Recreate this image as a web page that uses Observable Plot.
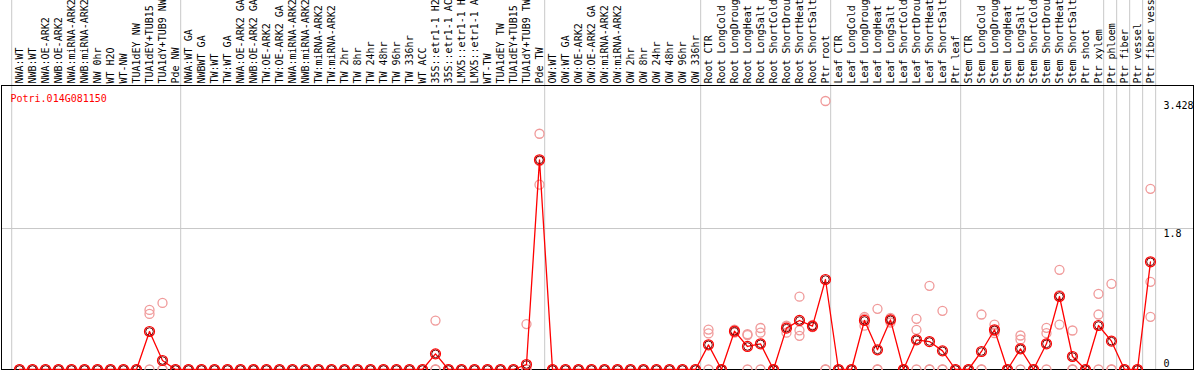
<!DOCTYPE html>
<html><head><meta charset="utf-8">
<script src="https://cdn.jsdelivr.net/npm/d3@7"></script>
<script src="https://cdn.jsdelivr.net/npm/@observablehq/plot@0.6"></script>
<style>html,body{margin:0;padding:0;background:#fff;} #chart svg{display:block;}</style>
</head><body><div id="chart"></div>
<script>
const geneId = "Potri.014G081150";

const categories = [
  "NWA:WT","NWB:WT","NWA:OE-ARK2","NWB:OE-ARK2","NWA:miRNA-ARK2","NWB:miRNA-ARK2","NW 0hr","WT H2O","WT-NW","TUA1dEY NW","TUA1dEY+TUB15 NW","TUA1dY+TUB9 NW","Pde NW",
  "NWA:WT GA","NWBWT GA","TW:WT","TW:WT GA","NWA:OE-ARK2 GA","NWB:OE-ARK2 GA","TW:OE-ARK2","TW:OE-ARK2 GA","NWA:miRNA-ARK2","NWB:miRNA-ARK2","TW:miRNA-ARK2","TW:miRNA-ARK2","TW 2hr","TW 8hr","TW 24hr","TW 48hr","TW 96hr","TW 336hr","WT ACC","35S::etr1-1 H2O","35S::etr1-1 ACC","LMX5::etr1-1 H2O","LMX5::etr1-1 ACC","WT-TW","TUA1dEY TW","TUA1dEY+TUB15 TW","TUA1dY+TUB9 TW","Pde TW",
  "OW:WT","OW:WT GA","OW:OE-ARK2","OW:OE-ARK2 GA","OW:miRNA-ARK2","OW:miRNA-ARK2","OW 2hr","OW 8hr","OW 24hr","OW 48hr","OW 96hr","OW 336hr",
  "Root CTR","Root LongCold","Root LongDrought","Root LongHeat","Root LongSalt","Root ShortCold","Root ShortDrought","Root ShortHeat","Root ShortSalt","Ptr root",
  "Leaf CTR","Leaf LongCold","Leaf LongDrought","Leaf LongHeat","Leaf LongSalt","Leaf ShortCold","Leaf ShortDrought","Leaf ShortHeat","Leaf ShortSalt","Ptr leaf",
  "Stem CTR","Stem LongCold","Stem LongDrought","Stem LongHeat","Stem LongSalt","Stem ShortCold","Stem ShortDrought","Stem ShortHeat","Stem ShortSalt","Ptr shoot","Ptr xylem",
  "Ptr phloem","Ptr fiber","Ptr vessel","Ptr fiber vessel"
];

const groupSizes = [13, 28, 12, 10, 10, 11, 1, 1, 1, 1];

const meanValues = [
  0,0,0,0,0,0,0,0,0,0,0.485,0.115,0,
  0,0,0,0,0,0,0,0,0,0,0,0,0,0,0,0,0,0,0,0.2,0,0,0,0,0,0,0.064,2.677,
  0,0,0,0,0,0,0,0,0,0,0,0,
  0.315,0,0.489,0.294,0.328,0,0.528,0.626,0.553,1.149,
  0,0,0.626,0.251,0.634,0,0.379,0.357,0.238,0,
  0,0.23,0.507,0,0.264,0,0.328,0.932,0.166,0,0.562,
  0.362,0,0,1.375
];

const rep1 = [
  0,0,0,0,0,0,0,0,0,0,0.76,0.85,0,
  0,0,0,0,0,0,0,0,0,0,0,0,0,0,0,0,0,0,0,0.625,0,0,0,0,0,0,0.58,3.01,
  0,0,0,0,0,0,0,0,0,0,0,0,
  0.51,0,0.51,0.45,0.53,0,0.56,0.93,0.57,3.428,
  0,0,0.67,0.775,0.66,0,0.647,1.068,0.749,0,
  0,0.702,0.574,0,0.434,0,0.532,1.273,0.498,0,0.966,
  1.094,0,0,2.307
];
const rep2 = [
  0,0,0,0,0,0,0,0,0,0,0.71,0,0,
  0,0,0,0,0,0,0,0,0,0,0,0,0,0,0,0,0,0,0,0,0,0,0,0,0,0,0,2.66,
  0,0,0,0,0,0,0,0,0,0,0,0,
  0.46,0,0.49,0.44,0.47,0,0.55,0.5,0.55,0,
  0,0,0.65,0,0.64,0,0.507,0,0,0,
  0,0,0.49,0,0.383,0,0.464,0.95,0,0,0.702,
  0,0,0,1.12
];
const rep3 = [
  0,0,0,0,0,0,0,0,0,0,0,0,0,
  0,0,0,0,0,0,0,0,0,0,0,0,0,0,0,0,0,0,0,0,0,0,0,0,0,0,0,2.36,
  0,0,0,0,0,0,0,0,0,0,0,0,
  0,0,0.47,0,0,0,0.47,0.43,0.54,0,
  0,0,0.56,0,0.6,0,0,0,0,0,
  0,0,0.464,0,0,0,0,0.574,0,0,0,
  0,0,0,0.672
];

const yTicks = [0, 1.8, 3.428];
const yTickLabels = ["0", "1.8", "3.428"];

const rows = categories.map((label, i) => ({i, label, value: meanValues[i]}));
const reps = [rep1, rep2, rep3].flatMap(r => r.map((v, i) => ({i, value: v})));
const bounds = Array.from(d3.cumsum([0, ...groupSizes]));
const ticks = yTicks.map((v, k) => ({v, label: yTickLabels[k], col: categories.length}));

const font = "DejaVu Sans Mono, monospace";

const chart = Plot.plot({
  width: 1194,
  height: 370,
  marginTop: 85,
  marginBottom: 1,
  marginLeft: 1,
  marginRight: 1,
  style: {fontFamily: font, fontSize: "10px", background: "white"},
  x: {type: "linear", domain: [-1.385, 90.31], axis: null},
  y: {domain: [0, 3.626], axis: null},
  marks: [
    Plot.ruleX(bounds, {x: d => d - 0.6, stroke: "#c8c8c8", strokeWidth: 1, insetTop: -85, insetBottom: -1}),
    Plot.ruleY([yTicks[1]], {stroke: "#c8c8c8", strokeWidth: 1}),
    Plot.frame({stroke: "black", strokeWidth: 1}),
    Plot.dot(reps, {x: "i", y: "value", r: 4.5, stroke: "#f09a9a", strokeWidth: 1.3, fill: "none"}),
    Plot.line(rows, {x: "i", y: "value", stroke: "#ff0000", strokeWidth: 1.3}),
    Plot.dot(rows, {x: "i", y: "value", r: 5, stroke: "#ff0000", strokeWidth: 1.2, fill: "none"}),
    Plot.dot(rows, {x: "i", y: "value", r: 3.8, stroke: "#700000", strokeWidth: 1, fill: "none"}),
    Plot.text(rows, {x: "i", text: "label", frameAnchor: "top", dy: -2, rotate: -90, textAnchor: "start", lineAnchor: "middle", fill: "black", fontFamily: font, fontSize: 10}),
    Plot.text([geneId], {frameAnchor: "top-left", dx: 9, dy: 9, lineAnchor: "top", textAnchor: "start", fill: "#ff0000", fontFamily: font, fontSize: 10}),
    Plot.text(ticks.filter(d => d.v > 0), {x: "col", y: "v", text: "label", textAnchor: "start", lineAnchor: "top", dy: 1, fill: "black", fontFamily: font, fontSize: 10}),
    Plot.text(ticks.filter(d => d.v === 0), {x: "col", y: "v", text: "label", textAnchor: "start", lineAnchor: "bottom", dy: -3, fill: "black", fontFamily: font, fontSize: 10})
  ]
});
document.getElementById("chart").appendChild(chart);
</script>
</body></html>
